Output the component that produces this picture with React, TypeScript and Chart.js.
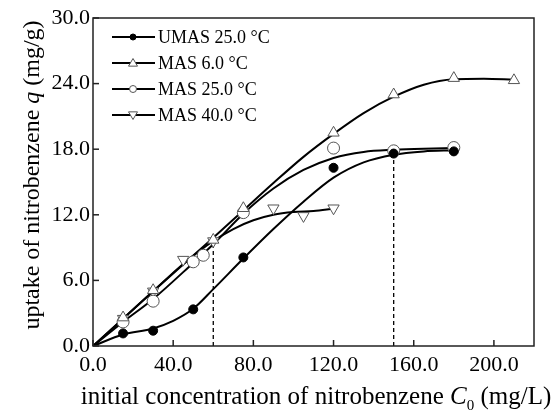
import React, { useEffect, useRef } from "react";
import { Chart, registerables } from "chart.js";

Chart.register(...registerables);

// ---- measured data points ----
const umasX = [15, 30, 50, 75, 120, 150, 180];
const umasY = [1.15, 1.4, 3.35, 8.1, 16.3, 17.6, 17.8];
const mas6X = [15, 30, 60, 75, 120, 150, 180, 210];
const mas6Y = [2.6, 5.1, 9.7, 12.6, 19.5, 23.0, 24.5, 24.3];
const mas25X = [15, 30, 50, 55, 75, 120, 150, 180];
const mas25Y = [2.2, 4.1, 7.7, 8.3, 12.2, 18.1, 17.85, 18.15];
const mas40X = [15, 30, 45, 60, 90, 105, 120];
const mas40Y = [2.5, 5.0, 7.9, 9.6, 12.6, 11.9, 12.6];

// ---- fitted curves ----
const umasCurveX = [0, 15, 30, 40, 50, 60, 75, 90, 105, 120, 135, 150, 165, 180];
const umasCurveY = [0, 1.05, 1.6, 2.3, 3.4, 5.2, 8.0, 10.7, 13.2, 15.4, 16.8, 17.5, 17.8, 17.9];
const mas6CurveX = [0, 15, 30, 60, 75, 90, 105, 120, 135, 150, 165, 180, 195, 210];
const mas6CurveY = [0, 2.5, 5.0, 9.9, 12.4, 14.9, 17.3, 19.4, 21.3, 22.8, 23.9, 24.4, 24.45, 24.35];
const mas25CurveX = [0, 15, 30, 50, 60, 75, 90, 105, 120, 135, 150, 165, 180];
const mas25CurveY = [0, 2.2, 4.3, 7.6, 9.3, 12.1, 14.4, 16.1, 17.2, 17.75, 17.95, 18.05, 18.1];
const mas40CurveX = [0, 15, 30, 45, 60, 70, 80, 90, 100, 110, 120];
const mas40CurveY = [0, 2.5, 5.0, 7.5, 9.6, 10.7, 11.5, 12.0, 12.25, 12.35, 12.55];

// dashed guide lines
const guideX = [60, 150];
const guideTop = [9.6, 17.6];

const xTickStep = 40;
const yTickStep = 6;
const xMax = 220;
const yMax = 30;

const legendLabels = ["UMAS 25.0 °C", "MAS 6.0 °C", "MAS 25.0 °C", "MAS 40.0 °C"];

const FONT = '"Liberation Serif", "Times New Roman", serif';

const pts = (xs: number[], ys: number[]) => xs.map((x, i) => ({ x, y: ys[i] }));

export default function App() {
  const ref = useRef<HTMLCanvasElement | null>(null);

  useEffect(() => {
    if (!ref.current) return;

    const markerStyles = [
      { style: "circle", rot: 0, r: 4.5, fill: "#000", stroke: "#000" },
      { style: "triangle", rot: 0, r: 6.5, fill: "#fff", stroke: "#555" },
      { style: "circle", rot: 0, r: 6, fill: "#fff", stroke: "#555" },
      { style: "triangle", rot: 180, r: 6.5, fill: "#fff", stroke: "#555" },
    ];

    const markerData = [pts(umasX, umasY), pts(mas6X, mas6Y), pts(mas25X, mas25Y), pts(mas40X, mas40Y)];
    const curveData = [
      pts(umasCurveX, umasCurveY),
      pts(mas6CurveX, mas6CurveY),
      pts(mas25CurveX, mas25CurveY),
      pts(mas40CurveX, mas40CurveY),
    ];

    const datasets: any[] = [];
    markerData.forEach((d, i) => {
      const m = markerStyles[i];
      datasets.push({
        label: legendLabels[i],
        data: d,
        showLine: false,
        pointStyle: m.style,
        rotation: m.rot,
        pointRadius: m.r,
        pointBackgroundColor: m.fill,
        pointBorderColor: m.stroke,
        pointBorderWidth: 1,
        order: 0,
      });
    });
    curveData.forEach((d) => {
      datasets.push({
        data: d,
        showLine: true,
        borderColor: "#000",
        borderWidth: 2,
        pointRadius: 0,
        cubicInterpolationMode: "monotone",
        fill: false,
        order: 1,
      });
    });
    guideX.forEach((gx, i) => {
      datasets.push({
        data: [
          { x: gx, y: 0 },
          { x: gx, y: guideTop[i] },
        ],
        showLine: true,
        borderColor: "#000",
        borderWidth: 1.3,
        borderDash: [4, 3],
        pointRadius: 0,
        order: 2,
      });
    });

    const decor = {
      id: "decor",
      beforeDraw(chart: any) {
        const c = chart.ctx;
        c.save();
        c.fillStyle = "#fff";
        c.fillRect(0, 0, chart.width, chart.height);
        c.restore();
      },
      afterDraw(chart: any) {
        const c = chart.ctx;
        const a = chart.chartArea;
        const xs = chart.scales.x;
        const ys = chart.scales.y;
        c.save();
        // frame
        c.strokeStyle = "#222";
        c.lineWidth = 1.5;
        c.strokeRect(a.left, a.top, a.right - a.left, a.bottom - a.top);
        // inward ticks
        c.lineWidth = 1.5;
        xs.ticks.forEach((t: any) => {
          const px = xs.getPixelForValue(t.value);
          c.beginPath();
          c.moveTo(px, a.bottom);
          c.lineTo(px, a.bottom - 6);
          c.stroke();
        });
        ys.ticks.forEach((t: any) => {
          const py = ys.getPixelForValue(t.value);
          c.beginPath();
          c.moveTo(a.left, py);
          c.lineTo(a.left + 6, py);
          c.stroke();
        });

        // legend
        const rowY = [37, 63, 89, 115];
        markerStyles.forEach((m, i) => {
          const y = rowY[i];
          c.strokeStyle = "#000";
          c.lineWidth = 2;
          c.beginPath();
          c.moveTo(112, y);
          c.lineTo(155, y);
          c.stroke();
          c.fillStyle = m.fill;
          c.strokeStyle = m.stroke;
          c.lineWidth = 1;
          const s = m.style === "circle" ? (i === 0 ? 3 : 3.5) : 4.5;
          c.beginPath();
          if (m.style === "circle") {
            c.arc(133, y, s, 0, Math.PI * 2);
          } else if (m.rot === 0) {
            c.moveTo(133, y - s);
            c.lineTo(133 + s, y + s * 0.7);
            c.lineTo(133 - s, y + s * 0.7);
            c.closePath();
          } else {
            c.moveTo(133, y + s);
            c.lineTo(133 + s, y - s * 0.7);
            c.lineTo(133 - s, y - s * 0.7);
            c.closePath();
          }
          c.fill();
          c.stroke();
          c.fillStyle = "#000";
          c.font = `18px ${FONT}`;
          c.textBaseline = "middle";
          c.textAlign = "left";
          c.fillText(legendLabels[i], 158, y + 1);
        });

        // x title
        c.fillStyle = "#000";
        c.textBaseline = "alphabetic";
        const fN = `25px ${FONT}`;
        const fI = `italic 25px ${FONT}`;
        const fS = `15px ${FONT}`;
        const parts = [
          { t: "initial concentration of nitrobenzene ", f: fN, dy: 0 },
          { t: "C", f: fI, dy: 0 },
          { t: "0", f: fS, dy: 6 },
          { t: " (mg/L)", f: fN, dy: 0 },
        ];
        let total = 0;
        parts.forEach((p) => {
          c.font = p.f;
          total += c.measureText(p.t).width;
        });
        let x = 316 - total / 2;
        parts.forEach((p) => {
          c.font = p.f;
          c.fillText(p.t, x, 404 + p.dy);
          x += c.measureText(p.t).width;
        });

        // y title
        const fY = `24px ${FONT}`;
        const fYI = `italic 24px ${FONT}`;
        const yparts = [
          { t: "uptake of nitrobenzene ", f: fY },
          { t: "q", f: fYI },
          { t: " (mg/g)", f: fY },
        ];
        let ytotal = 0;
        yparts.forEach((p) => {
          c.font = p.f;
          ytotal += c.measureText(p.t).width;
        });
        c.translate(39, 175);
        c.rotate(-Math.PI / 2);
        let yx = -ytotal / 2;
        yparts.forEach((p) => {
          c.font = p.f;
          c.fillText(p.t, yx, 0);
          yx += c.measureText(p.t).width;
        });
        c.restore();
      },
    };

    const chart = new Chart(ref.current, {
      type: "scatter",
      data: { datasets },
      options: {
        animation: false,
        responsive: false,
        maintainAspectRatio: false,
        devicePixelRatio: 1,
        layout: { padding: { top: 18, right: 24, left: 0, bottom: 0 } },
        plugins: { legend: { display: false }, tooltip: { enabled: false } },
        scales: {
          x: {
            type: "linear",
            min: 0,
            max: xMax,
            afterFit: (s: any) => {
              s.height = 66;
            },
            grid: { display: false, drawTicks: false },
            border: { display: false },
            ticks: {
              stepSize: xTickStep,
              includeBounds: false,
              padding: 6,
              color: "#000",
              font: { family: FONT, size: 22 },
              maxRotation: 0,
              autoSkip: false,
              callback: (v: any) => Number(v).toFixed(1),
            },
          },
          y: {
            type: "linear",
            min: 0,
            max: yMax,
            afterFit: (s: any) => {
              s.width = 93;
            },
            grid: { display: false, drawTicks: false },
            border: { display: false },
            ticks: {
              stepSize: yTickStep,
              padding: 3,
              color: "#000",
              font: { family: FONT, size: 22 },
              callback: (v: any) => Number(v).toFixed(1),
            },
          },
        },
      },
      plugins: [decor],
    });
    return () => chart.destroy();
  }, []);

  return (
    <div style={{ position: "absolute", left: 0, top: 0, width: 558, height: 412, background: "#fff" }}>
      <canvas ref={ref} width={558} height={412} style={{ display: "block" }} />
    </div>
  );
}
